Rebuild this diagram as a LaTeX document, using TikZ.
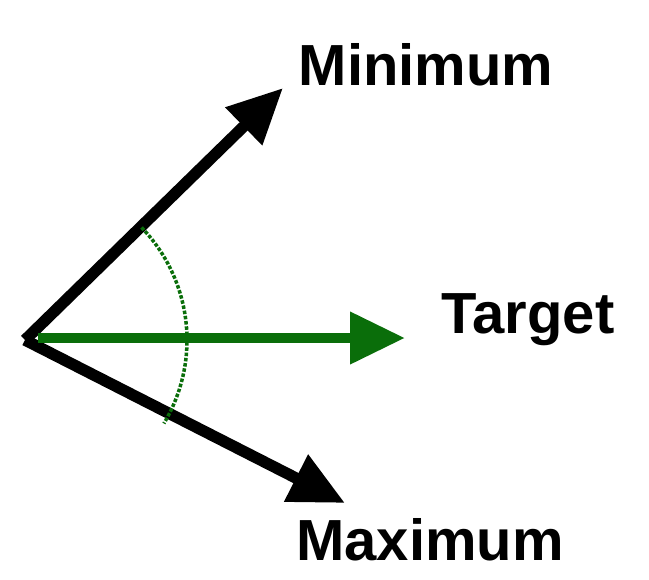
\documentclass[tikz,border=0pt]{standalone}
\usepackage{fontspec}
\setmainfont{Liberation Sans}
\usetikzlibrary{arrows.meta}
\definecolor{tgreen}{RGB}{10,110,10}

\begin{document}
\begin{tikzpicture}[x=0.02cm,y=-0.02cm]
\tikzset{vec/.style={line width=6.5pt,-{Triangle[length=1.1cm,width=1cm]}},
lab/.style={font=\bfseries\fontsize{33}{36}\selectfont}}
\useasboundingbox (0,0) rectangle (649,579);

\coordinate (o) at (25,340);
\coordinate (umin) at (283,88);
\coordinate (umax) at (345,503);
\coordinate (utar) at (405,338);

%labels
\node[lab] (min) at (426,65) {Minimum};
\node[lab] (tar) at (528,320) {Target};
\node[lab] (max) at (430,540) {Maximum};

%arrows
\draw[vec] (o) -- (umin);
\draw[vec] (o) -- (umax);
\draw[vec,color=tgreen,line width=6pt] (38,338) -- (utar);

%angle arc
\draw[tgreen,densely dotted,line width=2pt] (o) ++(-44:162) arc[start angle=-44,end angle=31,radius=162];
\end{tikzpicture}
\end{document}
